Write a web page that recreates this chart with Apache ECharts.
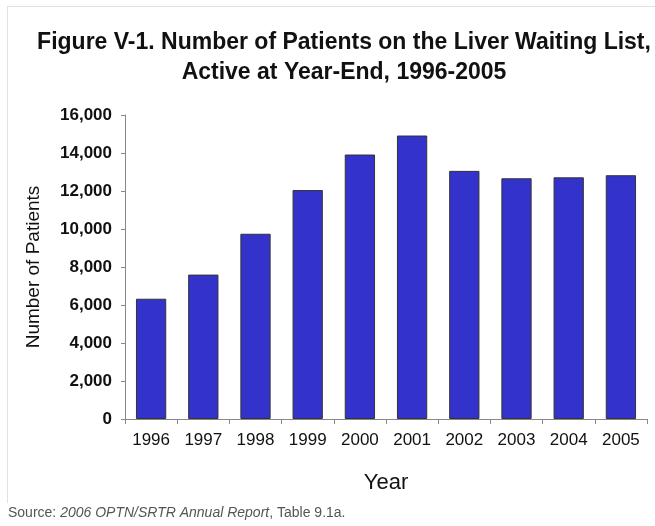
<!DOCTYPE html>
<html>
<head>
<meta charset="utf-8">
<script src="https://cdn.jsdelivr.net/npm/echarts@6/dist/echarts.min.js"></script>
<style>
html,body{margin:0;padding:0;background:#fff;}
#c{width:655px;height:526px;}
</style>
</head>
<body>
<div id="c"></div>
<script>
var years = ['1996','1997','1998','1999','2000','2001','2002','2003','2004','2005'];
var patients = [6330, 7600, 9750, 12050, 13920, 14920, 13060, 12670, 12720, 12830];
var yTicks = { min: 0, max: 16000, interval: 2000 };
var titleLines = ['Figure V-1. Number of Patients on the Liver Waiting List,', 'Active at Year-End, 1996-2005'];
var yName = 'Number of Patients';
var xName = 'Year';

var chart = echarts.init(document.getElementById('c'), null, {renderer: 'canvas'});
var font = 'Arial, "Liberation Sans", sans-serif';
chart.setOption({
  backgroundColor: '#fff',
  animation: false,
  title: {
    text: titleLines.join('\n'),
    left: 339, top: 23, textAlign: 'center',
    textStyle: { fontFamily: font, fontSize: 23, fontWeight: 'bold', color: '#111', lineHeight: 30 }
  },
  graphic: [
    { type: 'line', shape: { x1: 7, y1: 6.5, x2: 655, y2: 6.5 }, style: { stroke: '#e2e2e2', lineWidth: 1 } },
    { type: 'line', shape: { x1: 7.5, y1: 6, x2: 7.5, y2: 503 }, style: { stroke: '#e2e2e2', lineWidth: 1 } },
    { type: 'text', left: 8, top: 506,
      style: { text: '{a|Source: }{b|2006 OPTN/SRTR Annual Report}{a|, Table 9.1a.}',
        rich: { a: { fontFamily: font, fontSize: 14, fill: '#555' }, b: { fontFamily: font, fontSize: 14, fontStyle: 'italic', fill: '#555' } } } }
  ],
  grid: { left: 125, right: 8, top: 115, bottom: 107 },
  xAxis: {
    type: 'category', data: years,
    name: xName, nameLocation: 'middle', nameGap: 53,
    nameTextStyle: { fontFamily: font, fontSize: 22, color: '#111' },
    axisLine: { lineStyle: { color: '#888', width: 1 } },
    axisTick: { show: true, length: 5, lineStyle: { color: '#888' } },
    axisLabel: { fontFamily: font, fontSize: 17, color: '#111', margin: 13 }
  },
  yAxis: {
    type: 'value', min: yTicks.min, max: yTicks.max, interval: yTicks.interval,
    name: yName, nameLocation: 'middle', nameGap: 82, nameRotate: 90,
    nameTextStyle: { fontFamily: font, fontSize: 19, color: '#111' },
    axisLine: { show: true, lineStyle: { color: '#888', width: 1 } },
    axisTick: { show: true, length: 4, lineStyle: { color: '#888' } },
    splitLine: { show: false },
    axisLabel: { fontFamily: font, fontSize: 17, fontWeight: 'bold', color: '#111', margin: 13,
      formatter: function (v) { return v.toString().replace(/\B(?=(\d{3})+(?!\d))/g, ','); } }
  },
  series: [{
    type: 'bar', data: patients, barCategoryGap: '42%',
    itemStyle: { color: '#3333cc', borderColor: '#333', borderWidth: 1 }
  }]
});
</script>
</body>
</html>
